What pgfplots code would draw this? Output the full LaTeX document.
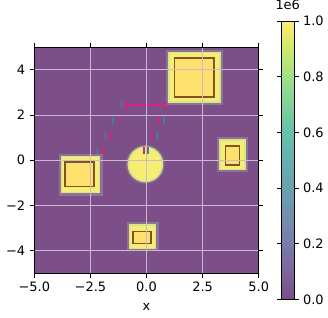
\documentclass[border=0pt]{standalone}
\usepackage{pgfplots}
\pgfplotsset{compat=1.18}
\usepackage{fontspec}
\setmainfont{DejaVu Sans}
\definecolor{bgp}{RGB}{124,79,136}
\definecolor{yel}{RGB}{246,238,112}
\definecolor{inner}{RGB}{254,224,108}
\definecolor{edge}{RGB}{128,85,35}
\definecolor{halo}{RGB}{215,232,125}
\definecolor{haloB}{RGB}{150,138,176}
\definecolor{pinkm}{RGB}{228,30,125}
\definecolor{tealm}{RGB}{55,135,150}
\definecolor{gridc}{RGB}{205,185,210}
\pgfplotsset{colormap={vir}{rgb255=(124,77,135) rgb255=(126,107,162) rgb255=(118,134,174) rgb255=(107,156,176) rgb255=(100,178,175) rgb255=(104,198,167) rgb255=(141,217,146) rgb255=(196,231,112) rgb255=(254,238,102)}}
\begin{document}
\begin{tikzpicture}
\begin{axis}[name=main, at={(0,0)}, scale only axis,
  width=173.5pt, height=174.75pt,
  xmin=-5, xmax=5, ymin=-5, ymax=5,
  axis on top,
  axis background/.style={fill=bgp},
  grid=major, grid style={gridc, line width=0.75pt},
  xtick={-5,-2.5,0,2.5,5}, xticklabels={−5.0,−2.5,0.0,2.5,5.0},
  ytick={-4,-2,0,2,4}, yticklabels={−4,−2,0,2,4},
  tick align=outside, major tick length=3.5pt,
  tick style={black, line width=0.6pt},
  axis line style={line width=0.6pt},
  ticklabel style={font=\fontsize{10}{12}\selectfont},
  xlabel={x}, xlabel style={font=\fontsize{10}{12}\selectfont, yshift=-2pt},
  colormap name=vir, colorbar, point meta min=0, point meta max=1,
  colorbar style={at={(parent axis.east)}, anchor=west, xshift=9pt,
    scale only axis, width=9.75pt, height=215.25pt,
    ytick={0,0.2,0.4,0.6,0.8,1}, yticklabels={0.0,0.2,0.4,0.6,0.8,1.0},
    yticklabel pos=right,
    tick align=outside, major tick length=3.5pt,
    tick style={black, line width=0.6pt},
    axis line style={line width=0.6pt},
    ticklabel style={font=\fontsize{10}{12}\selectfont},
    title={1e6}, title style={font=\fontsize{10}{12}\selectfont, at={(0.5,1)}, anchor=south, inner sep=0pt, yshift=2.5pt}},
]
% halos
\addplot[draw=haloB, line width=4.5pt, opacity=0.6] coordinates {(1.0,2.57) (3.28,2.57) (3.28,4.77) (1.0,4.77)} -- cycle;
\addplot[draw=haloB, line width=4.5pt, opacity=0.6] coordinates {(3.28,-0.4) (4.38,-0.4) (4.38,0.89) (3.28,0.89)} -- cycle;
\addplot[draw=haloB, line width=4.5pt, opacity=0.6] coordinates {(-3.78,-1.43) (-2.09,-1.43) (-2.09,0.17) (-3.78,0.17)} -- cycle;
\addplot[draw=haloB, line width=4.5pt, opacity=0.6] coordinates {(-0.76,-3.9) (0.41,-3.9) (0.41,-2.87) (-0.76,-2.87)} -- cycle;
\addplot[draw=haloB, line width=3.5pt, opacity=0.6] coordinates {
(0.71,-0.18) (0.684,0.017) (0.608,0.20) (0.487,0.357) (0.33,0.478) (0.147,0.554)
(-0.05,0.58) (-0.247,0.554) (-0.43,0.478) (-0.587,0.357) (-0.708,0.20) (-0.784,0.017)
(-0.81,-0.18) (-0.784,-0.377) (-0.708,-0.56) (-0.587,-0.717) (-0.43,-0.838) (-0.247,-0.914)
(-0.05,-0.94) (0.147,-0.914) (0.33,-0.838) (0.487,-0.717) (0.608,-0.56) (0.684,-0.377)} -- cycle;
% yellow regions
\addplot[fill=yel, draw=halo, line width=1.2pt] coordinates {(1.0,2.57) (3.28,2.57) (3.28,4.77) (1.0,4.77)} -- cycle;
\addplot[fill=yel, draw=halo, line width=1.2pt] coordinates {(3.28,-0.4) (4.38,-0.4) (4.38,0.89) (3.28,0.89)} -- cycle;
\addplot[fill=yel, draw=halo, line width=1.2pt] coordinates {(-3.78,-1.43) (-2.09,-1.43) (-2.09,0.17) (-3.78,0.17)} -- cycle;
\addplot[fill=yel, draw=halo, line width=1.2pt] coordinates {(-0.76,-3.9) (0.41,-3.9) (0.41,-2.87) (-0.76,-2.87)} -- cycle;
\addplot[fill=yel, draw=halo, line width=1.2pt] coordinates {
(0.71,-0.18) (0.684,0.017) (0.608,0.20) (0.487,0.357) (0.33,0.478) (0.147,0.554)
(-0.05,0.58) (-0.247,0.554) (-0.43,0.478) (-0.587,0.357) (-0.708,0.20) (-0.784,0.017)
(-0.81,-0.18) (-0.784,-0.377) (-0.708,-0.56) (-0.587,-0.717) (-0.43,-0.838) (-0.247,-0.914)
(-0.05,-0.94) (0.147,-0.914) (0.33,-0.838) (0.487,-0.717) (0.608,-0.56) (0.684,-0.377)} -- cycle;
% rectangles
\addplot[fill=inner, draw=edge, line width=1.2pt] coordinates {(1.25,2.8) (3.0,2.8) (3.0,4.53) (1.25,4.53)} -- cycle;
\addplot[fill=inner, draw=edge, line width=1.2pt] coordinates {(3.51,-0.2) (4.15,-0.2) (4.15,0.64) (3.51,0.64)} -- cycle;
\addplot[fill=inner, draw=edge, line width=1.2pt] coordinates {(-3.62,-1.16) (-2.34,-1.16) (-2.34,-0.07) (-3.62,-0.07)} -- cycle;
\addplot[fill=inner, draw=edge, line width=1.2pt] coordinates {(-0.6,-3.69) (0.19,-3.69) (0.19,-3.16) (-0.6,-3.16)} -- cycle;
% horizontal pink bar
\addplot[fill=pinkm, draw=none] coordinates {(-0.91,2.40) (0.88,2.40) (0.88,2.47) (-0.91,2.47)} -- cycle;
% small marks
\addplot[only marks, pinkm, mark=|, mark size=2.6pt, mark options={line width=1.1pt}] coordinates {(-0.91,2.43) (0.88,2.43) (-1.24,1.77) (0.56,1.77) (-1.59,1.1) (0.24,1.1) (-1.94,0.43) (-0.12,0.43)};
\addplot[only marks, tealm, mark=|, mark size=2.6pt, mark options={line width=1.1pt}] coordinates {(-1.12,2.46) (-1.5,1.77) (0.78,1.77) (-1.82,1.1) (0.46,1.1) (-2.18,0.43) (0.07,0.43)};
\end{axis}
\path (main.south west) ++(-26.5pt,-34.5pt);
\path (main.north east) ++(46pt,30.75pt);
\end{tikzpicture}
\end{document}
